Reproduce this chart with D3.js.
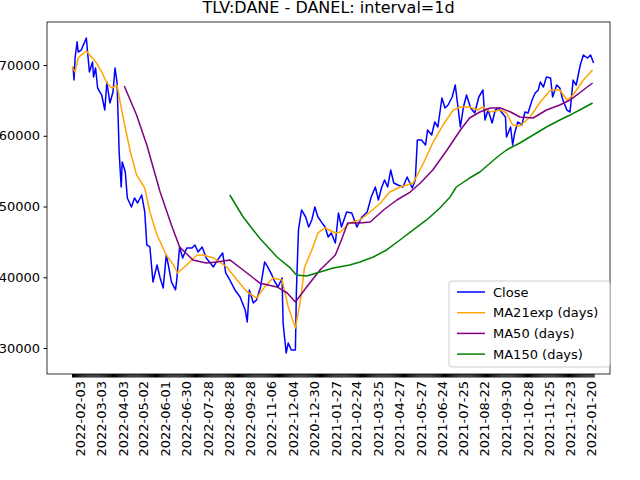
<!DOCTYPE html>
<html>
<head>
<meta charset="utf-8">
<script src="https://cdn.jsdelivr.net/npm/d3@7"></script>
<style>
  body { margin: 0; background: #fff; }
  text { font-family: "DejaVu Sans", sans-serif; }
</style>
</head>
<body>
<svg id="chart" width="640" height="480"></svg>
<script>
"use strict";

// day index of each sampled point, and the value there
var closeIdx = [1,2,3,5,6,9,14,15,17,20,21,23,25,29,32,34,37,40,42,44,46,48,49,52,54,58,61,64,68,71,73,76,79,83,86,89,92,94,97,101,102,105,108,112,117,120,123,127,131,138,142,147,150,154,159,164,169,171,173,177,180,184,188,191,195,198,201,205,206,209,211,214,218,219,221,224,228,231,234,237,240,244,247,250,253,257,260,263,268,273,278,283,288,292,296,299,302,305,308,311,314,318,323,327,332,335,337,341,345,347,351,354,357,361,364,367,371,374,377,379,382,385,389,393,397,401,403,406,410,413,416,419,423,424,428,430,432,435,439,442,445,449,452,455,457,460,463,467,469,473,476,479,483,486,489,492,496,499,503,506,509];
var closeVal = [69760,67880,70990,73290,71840,72120,73810,72120,69010,70420,68300,69580,66750,65760,63640,67600,64630,66180,69580,67460,57710,52760,56290,54880,51210,49940,51210,50500,51630,49230,44570,44280,39340,41740,39900,38490,43150,41740,39340,38210,39340,44280,42730,44140,44140,44570,43580,44280,42730,41460,42450,43440,40610,39620,38210,37220,35380,33690,38210,36370,36790,38630,42170,41460,40330,39340,38630,39900,33540,29300,30720,29730,29730,38210,46690,49510,48520,47110,48100,49940,48520,47680,47110,45700,46260,44850,49090,47110,49230,49090,47110,48520,49230,51350,52760,50920,52620,53750,52760,55160,53330,53040,52760,54170,52620,53750,59400,59400,58700,60820,60110,61950,61240,65340,63920,64350,65480,67170,63640,61240,64070,65760,63920,63220,65480,66470,62230,63640,61800,63640,63920,63360,62650,59830,61240,58700,60390,61950,61520,63360,63220,65050,66040,66470,67600,66890,68300,68160,65480,67170,66750,65050,63640,63360,67880,67170,70000,71410,70990,71410,70280];

var ma21Idx = [0,3,6,9,14,19,24,29,34,39,44,47,52,57,63,71,76,83,92,99,103,112,122,128,138,151,161,171,180,188,196,205,211,218,223,227,234,240,247,257,262,271,281,291,301,310,320,333,343,352,362,372,379,388,396,401,408,418,424,430,437,447,457,467,476,483,489,499,508];
var ma21Val = [69760,69010,70990,71410,71980,71130,70280,69010,67460,66750,67170,64770,61100,57710,54460,52620,49230,45980,43150,41740,40610,41740,43150,43150,42730,41460,39620,37920,37080,38630,39900,39620,35810,32840,36790,41460,43860,46260,46970,46260,46400,47680,48100,49230,50500,52050,52760,53330,56150,58980,61520,63640,64070,64070,63640,64070,63360,63640,63220,61520,61380,62650,64770,66470,66470,65050,65760,67880,69290];

var ma50Idx = [51,63,73,86,97,105,118,131,141,154,167,183,200,210,218,229,242,257,264,269,281,291,304,317,330,340,352,366,379,388,398,408,418,428,437,450,463,476,486,499,508];
var ma50Val = [67030,62930,58700,52050,47390,44280,42450,42020,42160,42450,41030,39200,38630,37780,36510,38630,41030,43150,45700,47680,47680,47820,49510,50920,52050,53330,55160,57990,60820,62510,63360,63920,63920,63360,62650,62510,63640,64350,65050,66470,67460];

var ma150Idx = [154,167,183,200,213,219,229,242,255,271,281,294,307,320,333,346,359,369,375,388,398,415,424,437,450,463,476,486,499,508];
var ma150Val = [51630,48520,45560,42870,41320,40330,40190,40750,41320,41740,42160,42870,43860,45270,46690,48100,49790,51350,52760,54030,54880,57000,57990,58980,60110,61240,62230,62930,63920,64630];

var dayCount = 510;
var tickIdx = [8,29,50,70,91,112,133,154,174,195,216,237,258,278,299,320,341,362,382,403,424,445,466,486,507];
var tickLabels = ["2022-02-03","2022-03-03","2022-04-03","2022-05-02","2022-06-01","2022-06-30","2022-07-28","2022-08-28","2022-09-28","2022-11-06","2022-12-04","2020-12-30","2021-01-27","2021-02-24","2021-03-25","2021-04-27","2021-05-27","2021-06-24","2021-07-25","2021-08-22","2021-09-30","2021-10-28","2021-11-25","2021-12-23","2022-01-20"];
var yTicks = [30000, 40000, 50000, 60000, 70000];

var mLeft = 47, mRight = 610, mTop = 22, mBottom = 374;
var svg = d3.select("#chart");

var x = d3.scaleLinear().domain([-24.4, 525]).range([mLeft, mRight]);
var y = d3.scaleLinear().domain([26330, 76080]).range([mBottom, mTop]);

function zip(a, b) { return a.map(function(d, i) { return [d, b[i]]; }); }

var series = [
  { name: "Close", color: "blue", data: zip(closeIdx, closeVal) },
  { name: "MA21exp (days)", color: "orange", data: zip(ma21Idx, ma21Val) },
  { name: "MA50 (days)", color: "purple", data: zip(ma50Idx, ma50Val) },
  { name: "MA150 (days)", color: "green", data: zip(ma150Idx, ma150Val) }
];

var line = d3.line().x(function(d) { return x(d[0]); }).y(function(d) { return y(d[1]); });

svg.append("g").selectAll("path")
  .data(series)
  .enter().append("path")
  .attr("fill", "none")
  .attr("stroke", function(d) { return d.color; })
  .attr("stroke-width", 1.5)
  .attr("stroke-linejoin", "round")
  .attr("d", function(d) { return line(d.data); });

// one tick per day, which reads as a black band
var allDays = d3.range(0, dayCount);
svg.append("g").attr("transform", "translate(0," + mBottom + ")")
  .call(d3.axisBottom(x).tickValues(allDays).tickSize(3.5).tickFormat(""))
  .call(function(g) { g.select(".domain").remove(); });

svg.append("g").selectAll("text")
  .data(tickIdx)
  .enter().append("text")
  .attr("transform", function(d) { return "translate(" + (x(d) + 4.5) + "," + (mBottom + 7) + ") rotate(-90)"; })
  .attr("text-anchor", "end")
  .attr("font-size", 13)
  .text(function(d, i) { return tickLabels[i]; });

var yAxis = svg.append("g").attr("transform", "translate(" + mLeft + ",0)")
  .call(d3.axisLeft(y).tickValues(yTicks).tickSize(3.5).tickPadding(3.5).tickFormat(d3.format("d")));
yAxis.select(".domain").remove();
yAxis.selectAll("text").attr("font-size", 13).attr("font-family", "DejaVu Sans");

svg.append("rect")
  .attr("x", mLeft).attr("y", mTop)
  .attr("width", mRight - mLeft).attr("height", mBottom - mTop)
  .attr("fill", "none").attr("stroke", "black").attr("stroke-width", 0.8);

svg.append("text")
  .attr("x", (mLeft + mRight) / 2).attr("y", 13)
  .attr("text-anchor", "middle").attr("font-size", 16)
  .text("TLV:DANE - DANEL: interval=1d");

var legend = svg.append("g").attr("transform", "translate(449,281)");
legend.append("rect")
  .attr("width", 161).attr("height", 86).attr("rx", 3)
  .attr("fill", "white").attr("fill-opacity", 0.8)
  .attr("stroke", "#ccc");
var item = legend.selectAll("g.item")
  .data(series)
  .enter().append("g")
  .attr("class", "item")
  .attr("transform", function(d, i) { return "translate(0," + (11 + i * 20.7) + ")"; });
item.append("line")
  .attr("x1", 8).attr("x2", 36)
  .attr("stroke", function(d) { return d.color; }).attr("stroke-width", 1.5);
item.append("text")
  .attr("x", 44).attr("dy", "0.35em").attr("font-size", 13)
  .text(function(d) { return d.name; });
</script>
</body>
</html>
